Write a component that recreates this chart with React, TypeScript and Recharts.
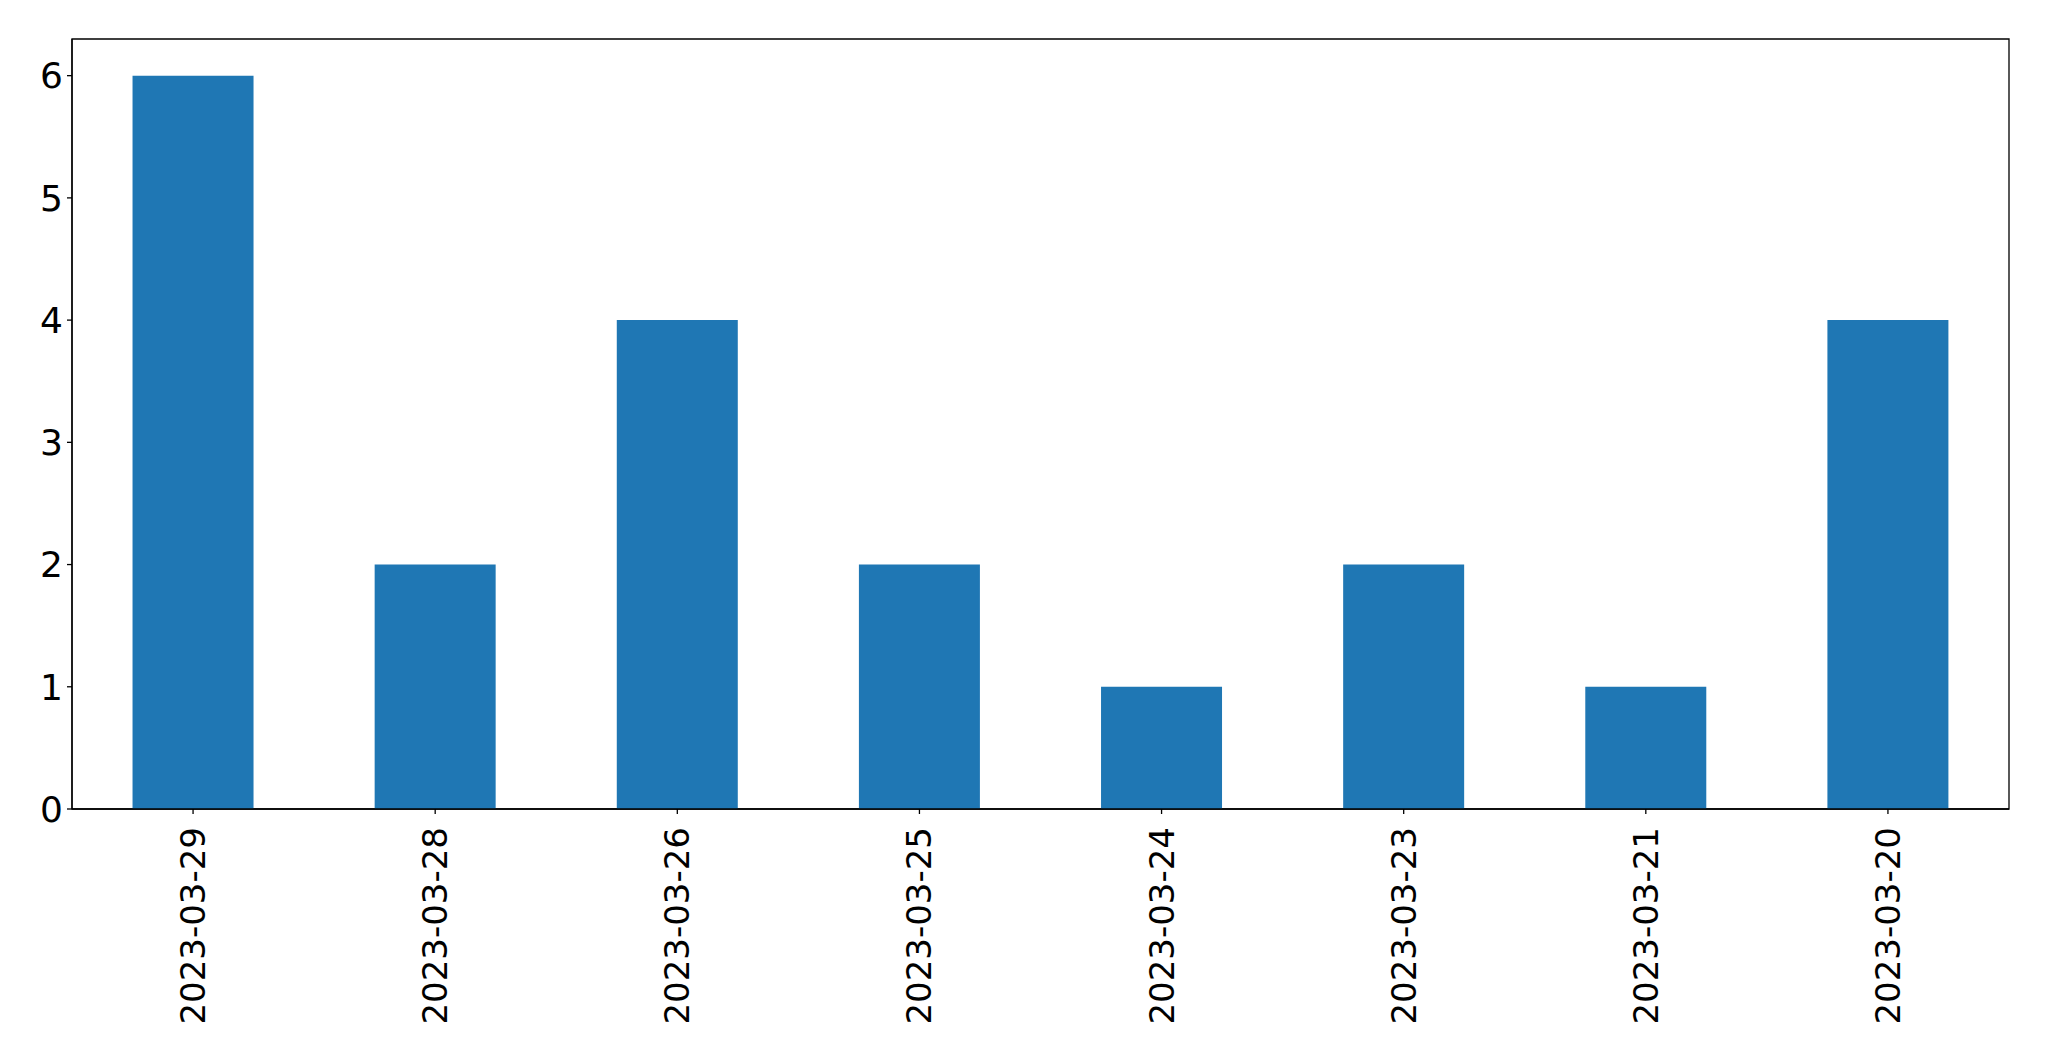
import React from "react";
import { BarChart, Bar, XAxis, YAxis, ReferenceArea } from "recharts";

const dates = ["2023-03-29", "2023-03-28", "2023-03-26", "2023-03-25", "2023-03-24", "2023-03-23", "2023-03-21", "2023-03-20"];
const counts = [6, 2, 4, 2, 1, 2, 1, 4];
const yTicks = [0, 1, 2, 3, 4, 5, 6];

const data = dates.map((d, i) => ({ date: d, count: counts[i] }));

const FONT = "DejaVu Sans, sans-serif";
const FS = 34;

const XTick = (props: any) => {
  const { x, y, payload } = props;
  const ty = y + 11;
  return (
    <text
      x={x}
      y={ty}
      transform={`rotate(-90, ${x}, ${ty})`}
      textAnchor="end"
      dominantBaseline="central"
      fontFamily={FONT}
      fontSize={FS}
      fill="#000"
    >
      {payload.value}
    </text>
  );
};

export default function App() {
  return (
    <div style={{ position: "absolute", left: 0, top: 0, width: 2049, height: 1061, background: "#fff" }}>
      <BarChart
        width={2049}
        height={1061}
        data={data}
        margin={{ top: 39, right: 40, left: 0, bottom: 0 }}
        barCategoryGap="25%"
      >
        <XAxis
          dataKey="date"
          height={252}
          interval={0}
          tick={<XTick />}
          tickSize={5}
          tickLine={{ stroke: "#000", strokeWidth: 1.3 }}
          axisLine={{ stroke: "#000", strokeWidth: 1.3 }}
        />
        <YAxis
          width={72}
          domain={[0, 6.3]}
          ticks={yTicks}
          interval={0}
          tickSize={5}
          tickMargin={4}
          tickLine={{ stroke: "#000", strokeWidth: 1.3 }}
          axisLine={{ stroke: "#000", strokeWidth: 1.3 }}
          tick={{ fontFamily: FONT, fontSize: 36, fill: "#000" }}
        />
        <Bar dataKey="count" fill="#1f77b4" isAnimationActive={false} />
        <ReferenceArea y1={0} y2={6.3} fill="none" stroke="#000" strokeWidth={1.3} ifOverflow="extendDomain" />
      </BarChart>
    </div>
  );
}
